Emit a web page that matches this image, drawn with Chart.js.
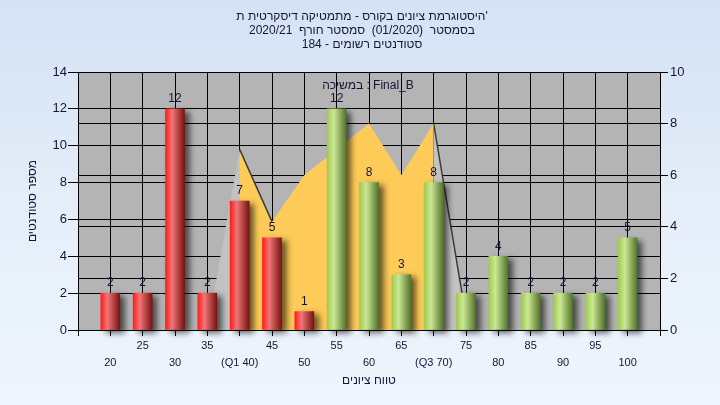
<!DOCTYPE html>
<html>
<head>
<meta charset="utf-8">
<script src="https://cdn.jsdelivr.net/npm/chart.js@4"></script>
<style>
html,body{margin:0;padding:0;}
body{width:720px;height:405px;background:linear-gradient(to bottom,#d4e2f4 0%,#e6eff9 55%,#eef5fd 100%);overflow:hidden;}
#wrap{position:relative;width:720px;height:405px;}
</style>
</head>
<body>
<div id="wrap"><canvas id="c" width="720" height="405"></canvas></div>
<script>
// ---- data ----
const categories = [20,25,30,35,40,45,50,55,60,65,70,75,80,85,90,95,100];
const tickLabels = ['20','25','30','35','(Q1 40)','45','50','55','60','65','(Q3 70)','75','80','85','90','95','100'];
const counts     = [2,2,12,2,7,5,1,12,8,3,8,2,4,2,2,2,5];
const curveAll   = [null,null,null,0,7,4.2,6,7,8,6,8,0.5,null,null,null,null,null];
const curveIQR   = [null,null,null,null,7,4.2,6,7,8,6,8,null,null,null,null,null,null];
const passScore  = 55;
const q1Score = 40, q3Score = 70;
const titleLines = ["היסטוגרמת ציונים בקורס - מתמטיקה דיסקרטית ת'", "בסמסטר  (01/2020)  סמסטר חורף  2020/21", "סטודנטים רשומים - 184"];
const legendText = "במשיכה : Final_B";
const xTitle = "טווח ציונים";
const yTitle = "מספר סטודנטים";

// padded with an empty slot on each side
const labels = ['', ...tickLabels, ''];
const pad = a => [null, ...a, null];
const q1Idx = categories.indexOf(q1Score) + 1;
const q3Idx = categories.indexOf(q3Score) + 1;

const FONT = '"Liberation Sans", "DejaVu Sans", Arial, sans-serif';
const TXT = '#14143a';
const BAR_W = 19;

function barFill(ctx) {
  const chart = ctx.chart;
  const xs = chart.scales && chart.scales.x;
  const i = ctx.dataIndex;
  const cat = categories[i - 1];
  const red = cat < passScore;
  const fallback = red ? '#e03030' : '#9cc45a';
  if (!xs || ctx.type !== 'data') return fallback;
  const cx = xs.getPixelForValue(i);
  if (!isFinite(cx)) return fallback;
  const g = chart.ctx.createLinearGradient(cx - BAR_W / 2, 0, cx + BAR_W / 2, 0);
  if (red) {
    g.addColorStop(0, '#ff1c1c');
    g.addColorStop(0.35, '#f07676');
    g.addColorStop(1, '#7a1212');
  } else {
    g.addColorStop(0, '#a0ca50');
    g.addColorStop(0.35, '#cbe894');
    g.addColorStop(1, '#54742c');
  }
  return g;
}

const bgPlugin = {
  id: 'bg',
  beforeDraw(chart) {
    const {ctx, chartArea: a} = chart;
    ctx.save();
    ctx.fillStyle = '#b4b4b4';
    ctx.fillRect(a.left, a.top, a.right - a.left, a.bottom - a.top);
    ctx.restore();
  }
};

const shadowPlugin = {
  id: 'shadow',
  beforeDatasetDraw(chart, args) {
    if (args.meta.type === 'bar') {
      const ctx = chart.ctx;
      ctx.save();
      ctx.shadowColor = 'rgba(0,0,0,0.6)';
      ctx.shadowBlur = 6;
      ctx.shadowOffsetX = 5;
      ctx.shadowOffsetY = 3;
    }
  },
  afterDatasetDraw(chart, args) {
    if (args.meta.type === 'bar') chart.ctx.restore();
  }
};

const textPlugin = {
  id: 'texts',
  afterDraw(chart) {
    const {ctx, chartArea: a} = chart;
    ctx.save();
    ctx.fillStyle = TXT;
    ctx.textAlign = 'center';
    ctx.textBaseline = 'middle';
    ctx.font = '12px ' + FONT;
    const meta = chart.getDatasetMeta(0);
    meta.data.forEach((el, i) => {
      const v = chart.data.datasets[0].data[i];
      if (v == null) return;
      ctx.fillText(String(v), el.x, el.y - 10);
    });
    titleLines.forEach((t, k) => ctx.fillText(t, 362, 17 + k * 14));
    ctx.fillText(legendText, 368, 86);
    ctx.fillText(xTitle, (a.left + a.right) / 2, 381);
    ctx.save();
    ctx.translate(33, (a.top + a.bottom) / 2);
    ctx.rotate(-Math.PI / 2);
    ctx.fillText(yTitle, 0, 0);
    ctx.restore();
    ctx.restore();
  }
};

new Chart(document.getElementById('c'), {
  type: 'bar',
  data: {
    labels: labels,
    datasets: [
      {
        type: 'bar',
        data: pad(counts),
        backgroundColor: barFill,
        borderWidth: 0,
        barThickness: BAR_W,
        yAxisID: 'y',
        order: 0,
        clip: false
      },
      {
        type: 'line',
        data: pad(curveIQR),
        yAxisID: 'y2',
        fill: 'origin',
        backgroundColor: '#fecb58',
        borderWidth: 1.5,
        borderColor: 'rgba(0,0,0,0)',
        segment: { borderColor: c => c.p0DataIndex === q1Idx ? '#3c3c3c' : 'rgba(0,0,0,0)' },
        pointRadius: 0,
        tension: 0,
        order: 1
      },
      {
        type: 'line',
        data: pad(curveAll),
        yAxisID: 'y2',
        fill: 'origin',
        backgroundColor: '#c2c2c2',
        borderWidth: 1.5,
        borderColor: 'rgba(0,0,0,0)',
        segment: { borderColor: c => c.p0DataIndex === q3Idx ? '#3c3c3c' : 'rgba(0,0,0,0)' },
        pointRadius: 0,
        tension: 0,
        order: 2
      }
    ]
  },
  options: {
    responsive: false,
    animation: false,
    devicePixelRatio: 1,
    layout: { padding: { top: 72, left: 0, right: 0, bottom: 0 } },
    plugins: { legend: { display: false }, title: { display: false }, tooltip: { enabled: false } },
    scales: {
      x: {
        type: 'category',
        offset: false,
        grid: { offset: false, color: '#000', lineWidth: 1, tickLength: 6, tickColor: '#000' },
        border: { color: '#000' },
        ticks: {
          autoSkip: false, maxRotation: 0, minRotation: 0, padding: 1,
          color: TXT, font: { size: 11, family: FONT, lineHeight: 1.55 },
          callback: function(value, index) {
            const l = labels[index];
            return index % 2 === 0 ? [l] : ['', l];
          }
        },
        afterFit(s) { s.height = 75; }
      },
      y: {
        position: 'left', min: 0, max: 14,
        grid: { color: '#000', lineWidth: 1, tickLength: 10, tickColor: '#000' },
        border: { color: '#000' },
        ticks: { stepSize: 2, padding: 1, color: TXT, font: { size: 13, family: FONT } },
        afterFit(s) { s.width = 78; }
      },
      y2: {
        position: 'right', min: 0, max: 10,
        grid: { color: '#000', lineWidth: 1, tickLength: 8, tickColor: '#000' },
        border: { color: '#000' },
        ticks: { stepSize: 2, padding: 2, color: TXT, font: { size: 13, family: FONT } },
        afterFit(s) { s.width = 60; }
      }
    }
  },
  plugins: [bgPlugin, shadowPlugin, textPlugin]
});
</script>
</body>
</html>
